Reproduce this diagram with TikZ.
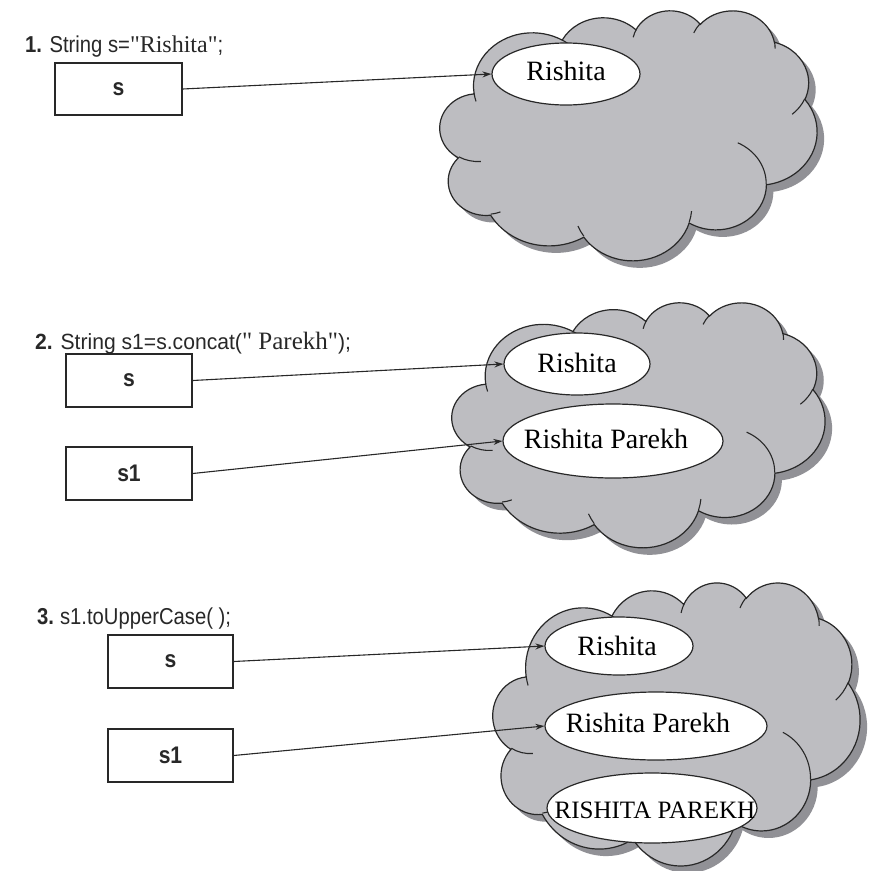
\documentclass[tikz,border=0pt]{standalone}
\usepackage{fontspec}
\setmainfont{Liberation Serif}
\newfontfamily\cond[FakeStretch=0.88]{Liberation Sans}
\newfontfamily\sansn[FakeStretch=0.96]{Liberation Sans}
\newfontfamily\litfont[Ligatures=ResetAll]{Liberation Serif}
\usetikzlibrary{shapes.geometric,arrows.meta}
\definecolor{cloudfill}{RGB}{189,189,193}
\definecolor{cloudshadow}{RGB}{145,145,150}
\definecolor{ink}{RGB}{40,40,40}

\pgfmathdeclarefunction{vp}{3}{\pgfmathparse{atan2(sin(#1)*#2,cos(#1)*#3)}}
\pgfmathdeclarefunction{vd}{4}{%
  \pgfmathparse{atan2(sin(#1+#2)*#3,cos(#1+#2)*#4)-atan2(sin(#1)*#3,cos(#1)*#4)}%
  \edef\vdtmp{\pgfmathresult}%
  \pgfmathparse{\vdtmp+360*round((#2-\vdtmp)/360)}}
\newcommand\oarc[4]{arc[x radius=#1,y radius=#2,start angle={vp(#3,#1,#2)},delta angle={vd(#3,#4,#1,#2)}]}

\def\cloudouter{(390,1437)
 \oarc{675.3}{919.0}{-190.4875}{123.7805}
 \oarc{533.3}{726.7}{-144.1024}{89.9452}
 \oarc{436.5}{594.5}{-145.8079}{99.7230}
 \oarc{485.7}{659.5}{-130.9861}{117.2417}
 \oarc{533.3}{727.3}{-78.7089}{109.0269}
 \oarc{677.5}{922.0}{-46.2673}{130.2690}
 \oarc{578.5}{786.7}{0.6250}{114.0333}
 \oarc{675.2}{921.5}{22.4516}{115.1726}
 \oarc{772.0}{1054.3}{66.2426}{75.7110}
 \oarc{436.0}{591.8}{-274.9421}{146.7356}
 \oarc{434.5}{594.5}{-246.8285}{152.5189} -- cycle}
\def\cloudinner{
 (469.3,2617.7) \oarc{434.5}{594.5}{86.7420}{26.4295}
 (692.8,3489.9) \oarc{436.0}{591.8}{73.6105}{11.4475}
 (1647.8,3909.0) \oarc{675.2}{921.5}{137.6242}{14.0811}
 (2882.7,3475.1) \oarc{675.2}{921.5}{6.4533}{15.9984}
 (3412.9,2295.4) \oarc{578.5}{786.7}{-70.2924}{70.9174}
 (4179.8,1535.4) \oarc{533.3}{727.3}{30.3180}{27.7515}
 (3832.4,542.6) \oarc{485.7}{659.5}{-13.7443}{14.8589}
 (2907.8,395.2) \oarc{485.7}{659.5}{-149.1815}{18.1954}
 (2214.1,472.0) \oarc{436.5}{594.5}{-163.4943}{17.6864}
 (1400.0,519.2) \oarc{675.3}{919.0}{-66.7070}{12.3194}
 (412.7,1578.9) \oarc{675.3}{919.0}{157.6544}{11.8582}}

\newcommand\drawcloud[4]{%
  \pgfmathsetmacro\cw{#3/4320}\pgfmathsetmacro\ch{-#4/4320}%
  \begin{scope}[shift={(#1+7,#2+7)},x=\cw pt,y=\ch pt]
    \fill[cloudshadow] \cloudouter;
  \end{scope}
  \begin{scope}[shift={(#1,#2)},x=\cw pt,y=\ch pt]
    \filldraw[fill=cloudfill,draw=ink,line width=1.2pt] \cloudouter;
    \draw[ink,line width=1.1pt] \cloudinner;
  \end{scope}}

\begin{document}
\begin{tikzpicture}[x=1pt,y=-1pt,
  box/.style={draw=ink,line width=1.4pt,minimum width=126pt,minimum height=53pt,inner sep=0pt,
    font=\cond\bfseries\fontsize{24}{28}\selectfont,text=ink},
  oval/.style={ellipse,draw=ink,line width=1.2pt,fill=white,inner sep=0pt},
  ovaltext/.style={anchor=base,inner sep=0pt,font=\fontsize{28}{32}\selectfont,text=black},
  lab/.style={anchor=base west,inner sep=0pt,font=\cond\fontsize{23}{27}\selectfont,text=ink},
  arr/.style={draw=ink,line width=1.1pt,-{Stealth[length=9pt,width=6pt]}}]
\fill[white] (0,0) rectangle (871,871);
\useasboundingbox (0,0) rectangle (871,871);

% clouds
\drawcloud{440}{10}{377}{250}
\drawcloud{452}{302}{373}{245}
\drawcloud{493}{582}{367}{283}

% labels
\node[lab] (l1) at (25,52) {{\bfseries 1.} String s={\litfont\fontsize{24}{28}\selectfont "Rishita"};};
\node[lab,font=\sansn\fontsize{22}{26}\selectfont] (l2) at (35,349) {{\bfseries 2.} String s1=s.concat({\litfont\fontsize{25}{29}\selectfont " Parekh"});};
\node[lab] (l3) at (37,624) {{\bfseries 3.}\hspace{6pt}s1.toUpperCase( );};

% boxes
\node[box,minimum width=127pt,minimum height=52pt] (b1s) at (118.5,89) {s};
\node[box] (b2s) at (129,380.5) {s};
\node[box] (b2s1) at (129,473.5) {s1};
\node[box,minimum width=125pt] (b3s) at (170.5,661.5) {s};
\node[box,minimum width=125pt] (b3s1) at (170.5,755.5) {s1};

% ellipses
\node[oval,minimum width=148pt,minimum height=62pt] (e1) at (566,74) {};
\node[oval,minimum width=146pt,minimum height=62pt] (e2a) at (577,364) {};
\node[oval,minimum width=220pt,minimum height=74pt] (e2b) at (613,441) {};
\node[oval,minimum width=148pt,minimum height=58pt] (e3a) at (619,646) {};
\node[oval,minimum width=222pt,minimum height=68pt] (e3b) at (656,726) {};
\node[oval,minimum width=210pt,minimum height=70pt] (e3c) at (652,808) {};

\node[ovaltext] (t1) at (566,80) {Rishita};
\node[ovaltext] (t2a) at (577,372) {Rishita};
\node[ovaltext] (t2b) at (606,448) {Rishita Parekh};
\node[ovaltext] (t3a) at (617,655) {Rishita};
\node[ovaltext] (t3b) at (648,732) {Rishita Parekh};
\node[ovaltext,font=\fontsize{25}{29}\selectfont] (t3c) at (655,818) {RISHITA PAREKH};

% arrows
\draw[arr] (b1s.east) -- (e1.west);
\draw[arr] (b2s.east) -- (e2a.west);
\draw[arr] (b2s1.east) -- (e2b.west);
\draw[arr] (b3s.east) -- (e3a.west);
\draw[arr] (b3s1.east) -- (e3b.west);
\end{tikzpicture}
\end{document}
